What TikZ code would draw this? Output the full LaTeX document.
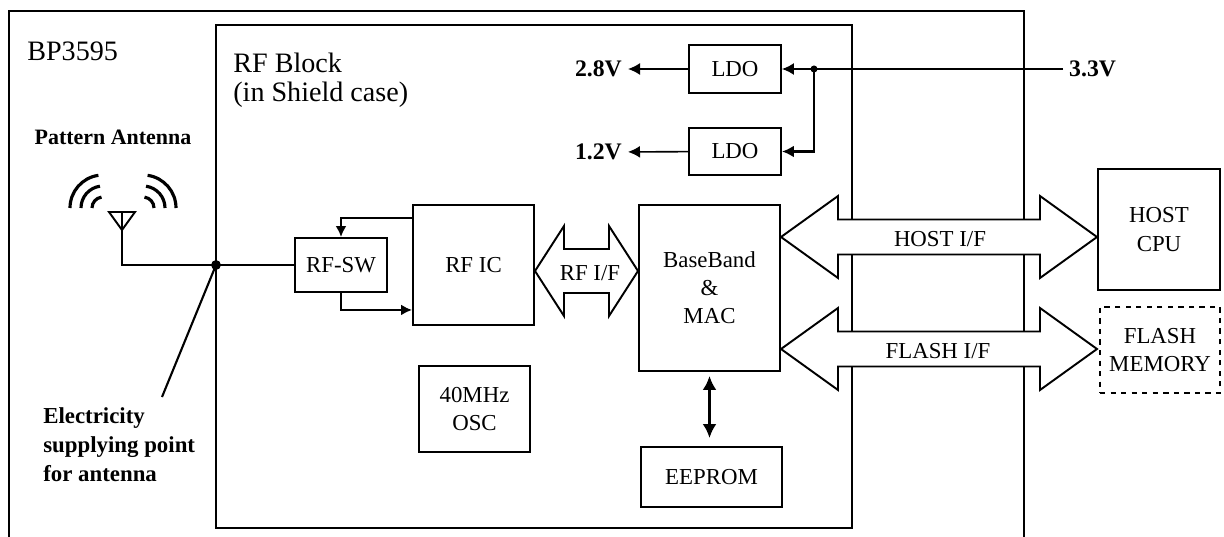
\documentclass[tikz,border=0pt]{standalone}
\usepackage{fontspec}
\setmainfont{Liberation Serif}
\usetikzlibrary{arrows.meta,calc}

% big hollow double arrow: x1, x2, y, shaft half, head half, head length
\newcommand{\fatarrow}[6]{%
\draw[fat] (#1,#3) -- (#1+#6,#3-#5) -- (#1+#6,#3-#4) -- (#2-#6,#3-#4) -- (#2-#6,#3-#5) -- (#2,#3)
  -- (#2-#6,#3+#5) -- (#2-#6,#3+#4) -- (#1+#6,#3+#4) -- (#1+#6,#3+#5) -- cycle;}

\begin{document}
\begin{tikzpicture}[x=0.02cm,y=-0.02cm,
  blk/.style={draw,line width=1.1pt,align=center,inner sep=0pt,font=\fontsize{13}{16}\selectfont},
  fat/.style={draw,fill=white,line width=1.1pt},
  pow/.style={line width=0.9pt,-{Latex[length=2.4mm,width=2.4mm]}},
  volt/.style={font=\bfseries\fontsize{13.5}{16}\selectfont},
  lbl/.style={font=\fontsize{13}{16}\selectfont}]
\useasboundingbox (0,0) rectangle (1224,537);

% module and shield
\draw[line width=1.6pt] (9,545) -- (9,11) -- (1024,11) -- (1024,545);
\draw[line width=1.6pt] (216,25) rectangle (852,528);
\node[anchor=west,inner sep=0pt,font=\fontsize{16}{18}\selectfont] (bp) at (27,51) {BP3595};
\node[anchor=north west,inner sep=0pt,align=left,font=\fontsize{16}{16.5}\selectfont] (rfblk) at (233,53) {RF Block\\(in Shield case)};

% interfaces
\fatarrow{781}{1097}{237}{17.5}{41}{57}
\fatarrow{781}{1097}{349}{17.5}{41}{57}
\fatarrow{535}{638}{271}{22}{45}{29}
\node[lbl] (hostif) at (940,239) {HOST I/F};
\node[lbl] (flashif) at (938,351) {FLASH I/F};
\node[lbl] (rfif) at (590,273) {RF I/F};

% blocks
\node[blk,minimum width=1.84cm,minimum height=0.96cm] (ldoa) at (735,69) {LDO};
\node[blk,minimum width=1.84cm,minimum height=0.94cm] (ldob) at (735,151.5) {LDO};
\node[blk,minimum width=1.84cm,minimum height=1.08cm] (rfsw) at (341,265) {RF-SW};
\node[blk,minimum width=2.42cm,minimum height=2.40cm] (rfic) at (473.5,265) {RF IC};
\node[blk,minimum width=2.82cm,minimum height=3.32cm] (bb) at (709.5,288) {BaseBand\\\&\\MAC};
\node[blk,minimum width=2.82cm,minimum height=1.20cm] (eep) at (711.5,477) {EEPROM};
\node[blk,minimum width=2.22cm,minimum height=1.72cm] (osc) at (474.5,409) {40MHz\\OSC};
\node[blk,minimum width=2.44cm,minimum height=2.42cm] (cpu) at (1159,229.5) {HOST\\CPU};
\node[blk,dashed,minimum width=2.40cm,minimum height=1.72cm] (flash) at (1160,350) {FLASH\\MEMORY};

% power
\node[volt,anchor=east] (va) at (628,69) {2.8V};
\node[volt,anchor=east] (vb) at (628,152) {1.2V};
\node[volt,anchor=west] (vin) at (1063,69) {3.3V};
\coordinate (tap) at (814,69);
\draw[pow] (ldoa) -- (va);
\draw[pow] (ldob) -- (vb);
\draw[pow] (vin) -- (ldoa);
\draw[pow,line width=1.4pt] (tap) |- (ldob);
\fill (tap) circle[radius=2pt];

% antenna
\node[font=\bfseries\fontsize{12.5}{15}\selectfont] (pat) at (113,137) {Pattern Antenna};
\coordinate (feed) at (216,265);
\coordinate (ant) at (122,212);
\draw[line width=1.1pt] (109,212) -- (135,212) -- (122,230) -- cycle;
\foreach \r in {11,22,33} {
  \draw[line width=1.8pt] (103-\r,208) arc[start angle=180,end angle=262,radius=\r];
  \draw[line width=1.8pt] (143+\r,208) arc[start angle=360,end angle=278,radius=\r];
}
\draw[line width=1.4pt] (ant) -- (122,265) -- (feed) -- (rfsw);
\fill (feed) circle[radius=2.8pt];
\node[anchor=north west,align=left,inner sep=0pt,font=\bfseries\fontsize{13}{16.7}\selectfont] (elec) at (43,407) {Electricity\\supplying point\\for antenna};
\coordinate (elecend) at (162,397);
\draw[line width=1.2pt] (feed) -- (elecend);

% rf switch paths
\draw[line width=1.4pt,-{Latex[length=2.2mm,width=2.2mm]}] ([yshift=-0.28cm]rfic.north west) -| (rfsw.north);
\draw[line width=1.4pt,-{Latex[length=2.2mm,width=2.2mm]}] (rfsw.south) |- ([yshift=0.32cm]rfic.south west);
\draw[line width=1.6pt,{Latex[length=2.8mm,width=2.8mm]}-{Latex[length=2.8mm,width=2.8mm]},shorten <=0.08cm,shorten >=0.16cm] (bb.south) -- (bb.south |- eep.north);
\end{tikzpicture}
\end{document}
